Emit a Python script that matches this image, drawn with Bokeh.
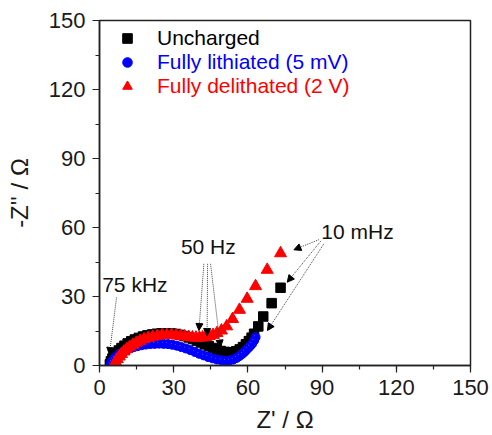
from bokeh.plotting import figure
from bokeh.models import (Range1d, SingleIntervalTicker, Legend, LegendItem, Arrow,
                          NormalHead, ColumnDataSource)
from bokeh.core.properties import value
from bokeh.transform import dodge
from bokeh.embed import file_html
from bokeh.resources import INLINE

# ---------------- data ----------------
tick_interval = 30

# Uncharged (black squares)
unch_x = [4.2, 4.6, 5.2, 5.9, 6.8, 7.8, 8.9, 10.1, 11.4, 12.8, 14.3, 15.9, 17.6, 19.4,
          21.3, 23.2, 25.1, 27.0, 28.9, 30.8, 32.6, 34.4, 36.1, 37.8, 39.4, 41.0, 42.6,
          44.2, 45.8, 47.4, 49.0, 50.6, 52.2, 53.8, 55.3, 56.7, 58.0, 59.2, 60.4, 61.5,
          62.5, 64.2, 66.2, 69.6, 73.2]
unch_y = [0.5, 1.8, 3.0, 4.2, 5.4, 6.5, 7.6, 8.6, 9.6, 10.5, 11.3, 12.0, 12.6, 13.1,
          13.5, 13.8, 14.0, 14.0, 13.9, 13.7, 13.3, 12.8, 12.2, 11.5, 10.8, 10.0, 9.2,
          8.4, 7.6, 6.9, 6.3, 5.9, 5.7, 5.8, 6.2, 7.0, 8.0, 9.2, 10.6, 12.1,
          13.8, 17.0, 21.3, 27.1, 33.8]

# Fully lithiated (5 mV) (blue circles)
lith_x = [4.4, 4.9, 5.5, 6.2, 7.0, 7.9, 8.9, 10.0, 11.2, 12.5, 13.9, 15.4, 17.0, 18.7,
          20.5, 22.3, 24.1, 25.9, 27.7, 29.5, 31.3, 33.1, 34.9, 36.7, 38.5, 40.3, 42.1,
          43.9, 45.7, 47.5, 49.3, 51.0, 52.6, 54.1, 55.5, 56.7, 57.8, 58.8, 59.8, 60.8,
          61.7, 62.5, 63.1]
lith_y = [0.5, 1.5, 2.4, 3.3, 4.1, 4.9, 5.6, 6.3, 6.9, 7.5, 8.0, 8.4, 8.8, 9.1,
          9.3, 9.4, 9.5, 9.4, 9.3, 9.0, 8.6, 8.0, 7.4, 6.7, 5.9, 5.1, 4.4,
          3.7, 3.1, 2.6, 2.3, 2.1, 2.2, 2.6, 3.3, 4.2, 5.1, 6.1, 7.2, 8.3,
          9.4, 10.8, 12.3]

# Fully delithated (2 V) (red triangles)
deli_x = [6.0, 6.5, 7.2, 8.0, 8.9, 9.9, 11.0, 12.2, 13.5, 14.9, 16.4, 18.0, 19.7, 21.5,
          23.4, 25.3, 27.2, 29.1, 31.0, 32.8, 34.5, 36.1, 37.6, 39.0, 40.4, 41.7, 43.0,
          44.4, 45.9, 47.5, 49.3, 51.4, 53.8, 56.6, 59.7, 63.1, 67.8, 73.2]
deli_y = [0.4, 1.6, 2.8, 3.9, 5.0, 6.1, 7.1, 8.1, 9.0, 9.9, 10.7, 11.4, 12.0, 12.5,
          12.9, 13.2, 13.3, 13.3, 13.1, 12.9, 12.6, 12.4, 12.2, 12.1, 12.1, 12.2, 12.4,
          12.8, 13.3, 14.1, 15.2, 17.0, 20.2, 24.2, 29.0, 34.5, 41.6, 48.8]

# frequency annotations
ann_text = ["75 kHz", "50 Hz", "10 mHz"]
ann_x = [14.3, 44.0, 104.3]
ann_y = [35.2, 51.8, 58.3]

arrow_x0 = [6.9, 42.2, 43.7, 44.9, 88.7, 89.4, 90.7]
arrow_y0 = [29.6, 44.2, 44.2, 44.2, 54.7, 54.0, 52.9]
arrow_x1 = [4.0, 40.2, 43.5, 48.9, 78.6, 75.9, 67.9]
arrow_y1 = [4.8, 15.2, 13.0, 8.0, 50.3, 36.2, 15.2]

FONT = "Liberation Sans"

# ---------------- figure ----------------
p = figure(width=492, height=435, x_range=Range1d(0, 150), y_range=Range1d(0, 150),
           output_backend="svg", toolbar_location=None,
           min_border_left=99, min_border_right=22, min_border_top=20, min_border_bottom=70)
p.xgrid.visible = False
p.ygrid.visible = False
p.outline_line_color = "#222222"
p.outline_line_width = 1.5
p.background_fill_color = "white"
p.border_fill_color = "white"

for ax in (p.xaxis[0], p.yaxis[0]):
    ax.ticker = SingleIntervalTicker(interval=tick_interval, num_minor_ticks=2)
    ax.major_tick_out = 7
    ax.major_tick_in = 0
    ax.minor_tick_out = 4
    ax.minor_tick_in = 0
    ax.axis_line_width = 1.5
    ax.axis_line_color = "#222222"
    ax.major_tick_line_color = "#222222"
    ax.minor_tick_line_color = "#222222"
    ax.major_tick_line_width = 1.2
    ax.minor_tick_line_width = 1.2
    ax.major_label_text_font = FONT
    ax.major_label_text_font_size = "22px"
    ax.major_label_text_color = "#1a1a1a"
    ax.axis_label_text_font = FONT
    ax.axis_label_text_font_size = "24px"
    ax.axis_label_text_font_style = "normal"
    ax.axis_label_text_color = "#1a1a1a"

p.xaxis.axis_label = "Z' / Ω"
p.yaxis.axis_label = "-Z'' / Ω"
p.xaxis.major_label_standoff = 7
p.xaxis.axis_label_standoff = 8
p.yaxis.major_label_standoff = 7
p.yaxis.axis_label_standoff = 13

src_u = ColumnDataSource(dict(x=unch_x, y=unch_y))
src_l = ColumnDataSource(dict(x=lith_x, y=lith_y))
src_d = ColumnDataSource(dict(x=deli_x, y=deli_y))

r_u = p.scatter("x", "y", source=src_u, marker="square", size=9.5,
                fill_color="black", line_color="black")
r_l = p.scatter("x", "y", source=src_l, marker="circle", size=9,
                fill_color="#0000ff", line_color="#0000ff")
r_ld = p.scatter(dodge("x", -0.5), dodge("y", 0.6), source=src_l, marker="dot", size=3,
                 line_color="#c8d4ff", line_width=0.5)
r_d = p.scatter("x", "y", source=src_d, marker="triangle", size=12,
                fill_color="#ff0000", line_color="#ff0000")

# arrows
arr_src = ColumnDataSource(dict(x0=arrow_x0, y0=arrow_y0, x1=arrow_x1, y1=arrow_y1))
p.add_layout(Arrow(x_start="x0", y_start="y0", x_end="x1", y_end="y1", source=arr_src,
                   line_color="#444444", line_width=1, line_dash="1 1",
                   end=NormalHead(size=7, fill_color="black", line_color="black",
                                  line_width=1)))

ann_src = ColumnDataSource(dict(x=ann_x, y=ann_y, t=ann_text))
p.text("x", "y", text="t", source=ann_src, text_font=value(FONT), text_font_size="21px",
       text_color="#111111", text_align="center", text_baseline="middle")

# legends (one per entry so each label can take its series colour)
leg_specs = [("Uncharged", [r_u], "#000000", 315),
             ("Fully lithiated (5 mV)", [r_l], "#0000ff", 291),
             ("Fully delithated (2 V)", [r_d], "#ff0000", 267)]
for label, rends, col, yoff in leg_specs:
    lg = Legend(items=[LegendItem(label=label, renderers=rends)], location=(16, yoff),
                border_line_color=None, background_fill_alpha=0, padding=0, margin=0,
                spacing=0, glyph_width=24, glyph_height=24, label_height=24,
                label_standoff=18, label_text_font=FONT, label_text_font_size="21px",
                label_text_color=col, label_text_baseline="middle")
    p.add_layout(lg)

open("out.html", "w").write(file_html(p, INLINE))
